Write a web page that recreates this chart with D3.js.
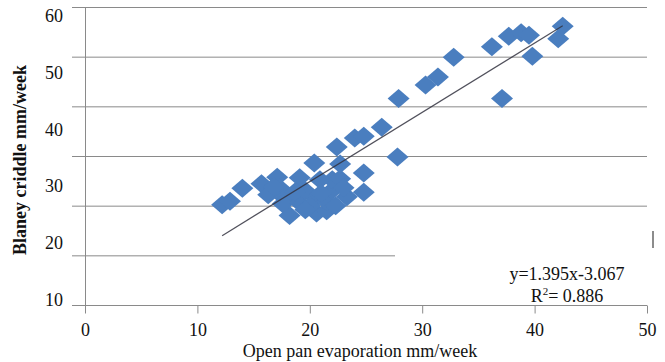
<!DOCTYPE html>
<html>
<head>
<meta charset="utf-8">
<script src="https://cdn.jsdelivr.net/npm/d3@7/dist/d3.min.js"></script>
<style>
  html, body { margin: 0; padding: 0; background: #fff; }
  svg { display: block; }
  text { font-family: "Liberation Serif", "Times New Roman", serif; fill: #111; }
</style>
</head>
<body>
<svg id="chart" width="665" height="362"></svg>
<script>
// ---- data ----
const evapX = [12.2, 12.9, 14.0, 15.7, 16.3, 17.1, 17.3, 17.8, 18.2, 17.6,
               19.1, 19.1, 19.6, 20.6, 20.6, 21.5, 21.5, 22.0, 22.0, 20.9,
               22.7, 20.4, 22.7, 22.4, 24.0, 24.8, 24.8, 24.8, 26.4, 27.8,
               27.9, 30.3, 31.4, 32.8, 36.2, 37.7, 38.8, 39.5, 37.1, 39.8,
               42.1, 42.5, 23.3, 18.7, 20.0, 21.0, 22.3, 16.8, 19.6, 23.0];
const blaneyY = [20.2, 20.9, 23.5, 24.4, 22.2, 25.7, 23.6, 21.5, 18.0, 20.4,
                 25.6, 20.6, 23.0, 21.6, 18.5, 19.0, 20.8, 23.1, 25.2, 25.2,
                 25.4, 28.6, 28.4, 31.8, 33.6, 34.0, 26.6, 22.7, 35.8, 29.8,
                 41.6, 44.3, 45.9, 49.9, 52.0, 54.1, 54.8, 54.3, 41.6, 50.1,
                 53.6, 56.1, 21.8, 22.8, 20.0, 22.5, 20.0, 23.8, 19.2, 23.6];
const gridValues = [0, 10, 20, 30, 40, 50, 60];
const yTickLabels = [60, 50, 40, 30, 20, 10];
const xTickValues = [0, 10, 20, 30, 40, 50];
const fitSlope = 1.395;
const fitIntercept = -3.067;
const fitR2 = "0.886";
const xTitle = "Open pan evaporation mm/week";
const yTitle = "Blaney criddle mm/week";

// ---- scales ----
const svg = d3.select("#chart");
const x = d3.scaleLinear().domain([0, 50]).range([85, 647]);
const y = d3.scaleLinear().domain([0, 60]).range([305, 7]);
const yLab = d3.scaleLinear().domain([10, 60]).range([300, 16]);

const gridColor = "#8a8a8a";

// gridlines
svg.append("g").selectAll("line").data(gridValues).join("line")
  .attr("x1", 72).attr("x2", 647)
  .attr("y1", d => y(d) + 0.5).attr("y2", d => y(d) + 0.5)
  .attr("stroke", gridColor).attr("stroke-width", 1);

// y axis vertical line
svg.append("line")
  .attr("x1", x(0) + 0.5).attr("x2", x(0) + 0.5)
  .attr("y1", y(60)).attr("y2", y(0) + 8)
  .attr("stroke", gridColor).attr("stroke-width", 1);

// x axis ticks + labels
const xAxis = d3.axisBottom(x).tickValues(xTickValues).tickSize(8).tickSizeOuter(0).tickPadding(10);
const gx = svg.append("g").attr("transform", `translate(0,${y(0) + 0.5})`).call(xAxis);
gx.select(".domain").remove();
gx.selectAll(".tick line").attr("stroke", gridColor);
gx.selectAll(".tick text")
  .attr("font-family", "'Liberation Serif','Times New Roman',serif")
  .attr("font-size", 18).attr("fill", "#111");

// white box covering lower-right region (equation area)
svg.append("rect")
  .attr("x", 395).attr("y", 212).attr("width", 258).attr("height", y(0) - 212 - 1)
  .attr("fill", "#fff");

// small stray border mark on the right
svg.append("line")
  .attr("x1", 653).attr("x2", 653).attr("y1", 231).attr("y2", 248)
  .attr("stroke", "#666").attr("stroke-width", 1.5);

// y tick labels
svg.append("g").selectAll("text").data(yTickLabels).join("text")
  .attr("x", 63).attr("y", d => yLab(d))
  .attr("text-anchor", "end").attr("dominant-baseline", "central")
  .attr("font-size", 18)
  .text(d => d);

// points (diamonds)
const xExt = d3.extent(evapX);
const pts = evapX.map((v, i) => ({ x: v, y: blaneyY[i] }));
svg.append("g").selectAll("path").data(pts).join("path")
  .attr("transform", d => `translate(${x(d.x)},${y(d.y)})`)
  .attr("d", "M0,-9.5L11,0L0,9.5L-11,0Z")
  .attr("fill", "#4a7ebf");

// trend line (drawn over points)
svg.append("line")
  .attr("x1", x(xExt[0])).attr("y1", y(fitSlope * xExt[0] + fitIntercept))
  .attr("x2", x(xExt[1])).attr("y2", y(fitSlope * xExt[1] + fitIntercept))
  .attr("stroke", "#333340").attr("stroke-width", 1.2).attr("opacity", 0.85);

// equation
svg.append("text")
  .attr("x", 567).attr("y", 280).attr("text-anchor", "middle").attr("font-size", 18)
  .text(`y=${fitSlope}x${fitIntercept}`);
const r2 = svg.append("text")
  .attr("x", 567).attr("y", 302).attr("text-anchor", "middle").attr("font-size", 18);
r2.append("tspan").text("R");
r2.append("tspan").attr("font-size", 11).attr("dy", -7).text("2");
r2.append("tspan").attr("dy", 7).text("= " + fitR2);

// axis titles
svg.append("text")
  .attr("x", 360).attr("y", 357).attr("text-anchor", "middle").attr("font-size", 18)
  .text(xTitle);
svg.append("text")
  .attr("transform", "translate(26,160) rotate(-90)")
  .attr("text-anchor", "middle").attr("font-size", 18).attr("font-weight", "bold")
  .text(yTitle);
</script>
</body>
</html>
